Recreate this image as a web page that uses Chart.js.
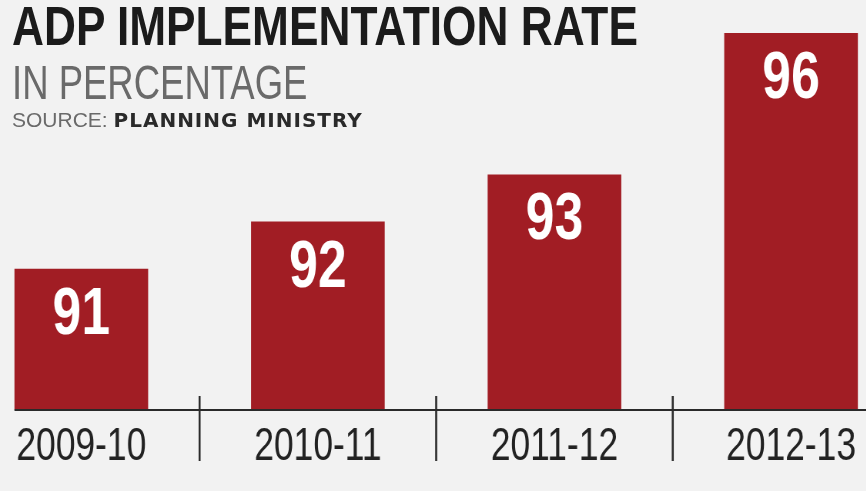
<!DOCTYPE html>
<html>
<head>
<meta charset="utf-8">
<script src="https://cdn.jsdelivr.net/npm/chart.js@4/dist/chart.umd.min.js"></script>
<style>
  html, body { margin: 0; padding: 0; background: #f2f2f2; overflow: hidden; }
  body { width: 866px; height: 491px; position: relative; }
  #wrap { position: absolute; left: -37px; top: 0; width: 1229px; height: 491px; transform: scaleX(0.77); transform-origin: 0 0; }
  .t { position: absolute; left: 12px; white-space: nowrap; z-index: 2; transform-origin: 0 0; font-family: "Liberation Sans", sans-serif; }
  #title { top: -7px; font-weight: bold; font-size: 56px; color: #1b1b1b; transform: scaleX(0.79); }
  #sub { top: 54px; font-size: 49px; color: #6a6a6a; transform: scaleX(0.745); }
  #src { top: 108px; font-size: 21px; color: #6a6a6a; }
  #src b { font-family: "DejaVu Sans", sans-serif; font-weight: bold; color: #2a2a2a; font-size: 20px; letter-spacing: 1px; }
</style>
</head>
<body>
<div class="t" id="title">ADP IMPLEMENTATION RATE</div>
<div class="t" id="sub">IN PERCENTAGE</div>
<div class="t" id="src">SOURCE: <b>PLANNING MINISTRY</b></div>
<div id="wrap"><canvas id="c" width="1229" height="491"></canvas></div>
<script>
const categories = ['2009-10', '2010-11', '2011-12', '2012-13'];
const rates = [91, 92, 93, 96];
const yMin = 88;
const yMax = 96;

const decor = {
  id: 'decor',
  afterDatasetsDraw(chart) {
    const ctx = chart.ctx;
    const meta = chart.getDatasetMeta(0);
    const xs = chart.scales.x;
    const bottom = chart.chartArea.bottom;
    ctx.save();
    // value labels
    ctx.fillStyle = '#ffffff';
    ctx.font = 'bold 67px "Liberation Sans", sans-serif';
    ctx.textAlign = 'center';
    ctx.textBaseline = 'alphabetic';
    meta.data.forEach((bar, i) => {
      ctx.fillText(String(rates[i]), bar.x, bar.y + 65);
    });
    // baseline
    const first = meta.data[0];
    ctx.strokeStyle = '#2a2a2a';
    ctx.lineWidth = 2;
    ctx.beginPath();
    ctx.moveTo(first.x - first.width / 2, bottom);
    ctx.lineTo(chart.width, bottom);
    ctx.stroke();
    // separators
    ctx.lineWidth = 2.6;
    for (let i = 0; i < categories.length - 1; i++) {
      const x = (xs.getPixelForValue(i) + xs.getPixelForValue(i + 1)) / 2;
      ctx.beginPath();
      ctx.moveTo(x, bottom - 14);
      ctx.lineTo(x, bottom + 51);
      ctx.stroke();
    }
    ctx.restore();
  }
};

new Chart(document.getElementById('c'), {
  type: 'bar',
  data: {
    labels: categories,
    datasets: [{
      data: rates,
      backgroundColor: '#a11d24',
      borderWidth: 0,
      categoryPercentage: 1,
      barPercentage: 0.565
    }]
  },
  options: {
    responsive: false,
    animation: false,
    layout: { padding: { top: 33, left: 0, right: 0, bottom: 0 } },
    plugins: { legend: { display: false }, tooltip: { enabled: false }, title: { display: false } },
    scales: {
      y: { display: false, min: yMin, max: yMax },
      x: {
        grid: { display: false, drawTicks: false },
        border: { display: false },
        ticks: {
          color: '#222222',
          padding: 10,
          font: { family: '"Liberation Sans", sans-serif', size: 46, lineHeight: 1.2 }
        },
        afterFit(scale) { scale.height = 81; }
      }
    }
  },
  plugins: [decor]
});
</script>
</body>
</html>
